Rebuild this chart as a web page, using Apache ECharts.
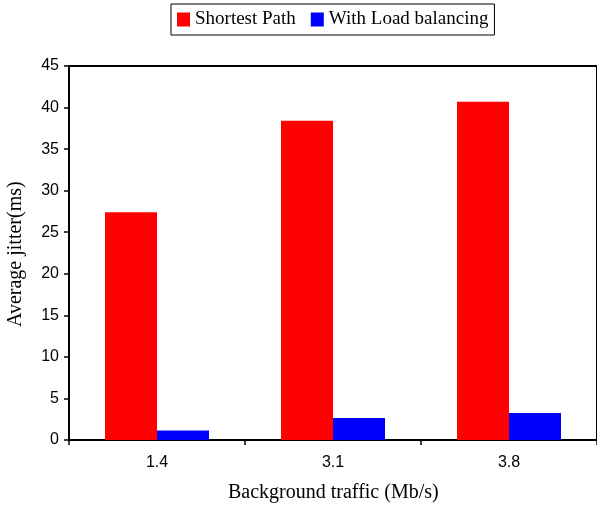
<!DOCTYPE html>
<html>
<head>
<meta charset="utf-8">
<script src="https://cdn.jsdelivr.net/npm/echarts@6/dist/echarts.min.js"></script>
<style>
  html, body { margin: 0; padding: 0; background: #fff; }
  #chart { width: 597px; height: 508px; }
</style>
</head>
<body>
<div id="chart"></div>
<script>
// data
const categories = ["1.4", "3.1", "3.8"];
const shortestPath = [27.4, 38.4, 40.7];
const loadBalancing = [1.15, 2.65, 3.25];
const seriesNames = ["Shortest Path", "With Load balancing"];

const myChart = echarts.init(document.getElementById("chart"));

const option = {
  animation: false,
  backgroundColor: "#fff",
  legend: {
    data: seriesNames,
    top: 4,
    left: 171,
    itemWidth: 13,
    itemHeight: 14,
    itemGap: 15,
    icon: "rect",
    borderColor: "#000",
    borderWidth: 1,
    padding: [6, 6, 6, 6],
    textStyle: {
      fontFamily: "Liberation Serif",
      fontSize: 19,
      color: "#000"
    }
  },
  grid: {
    left: 69,
    right: -3,
    top: 66,
    bottom: 68,
    show: true,
    borderColor: "#000",
    borderWidth: 2
  },
  xAxis: {
    type: "category",
    data: categories,
    axisLine: { lineStyle: { color: "#000", width: 2 } },
    axisTick: { show: true, length: 5, lineStyle: { color: "#000", width: 1.5 } },
    axisLabel: {
      fontFamily: "Liberation Sans",
      fontSize: 16,
      color: "#000",
      margin: 15
    }
  },
  yAxis: {
    type: "value",
    min: 0,
    max: 45,
    interval: 5,
    splitLine: { show: false },
    axisLine: { show: true, lineStyle: { color: "#000", width: 2 } },
    axisTick: { show: true, length: 5, lineStyle: { color: "#000", width: 1.5 } },
    axisLabel: {
      fontFamily: "Liberation Sans",
      fontSize: 16,
      color: "#000",
      margin: 10
    }
  },
  graphic: [
    {
      type: "text",
      left: 228,
      top: 483,
      style: {
        text: "Background traffic (Mb/s)",
        font: "20px 'Liberation Serif'",
        fill: "#000"
      }
    },
    {
      type: "text",
      x: 6,
      y: 327,
      rotation: Math.PI / 2,
      style: {
        text: "Average jitter(ms)",
        font: "20px 'Liberation Serif'",
        fill: "#000"
      }
    }
  ],
  series: [
    {
      name: seriesNames[0],
      type: "bar",
      barWidth: 52,
      barGap: "0%",
      itemStyle: { color: "#ff0000" },
      data: shortestPath
    },
    {
      name: seriesNames[1],
      type: "bar",
      barWidth: 52,
      barGap: "0%",
      itemStyle: { color: "#0000ff" },
      data: loadBalancing
    }
  ]
};

myChart.setOption(option);
</script>
</body>
</html>
